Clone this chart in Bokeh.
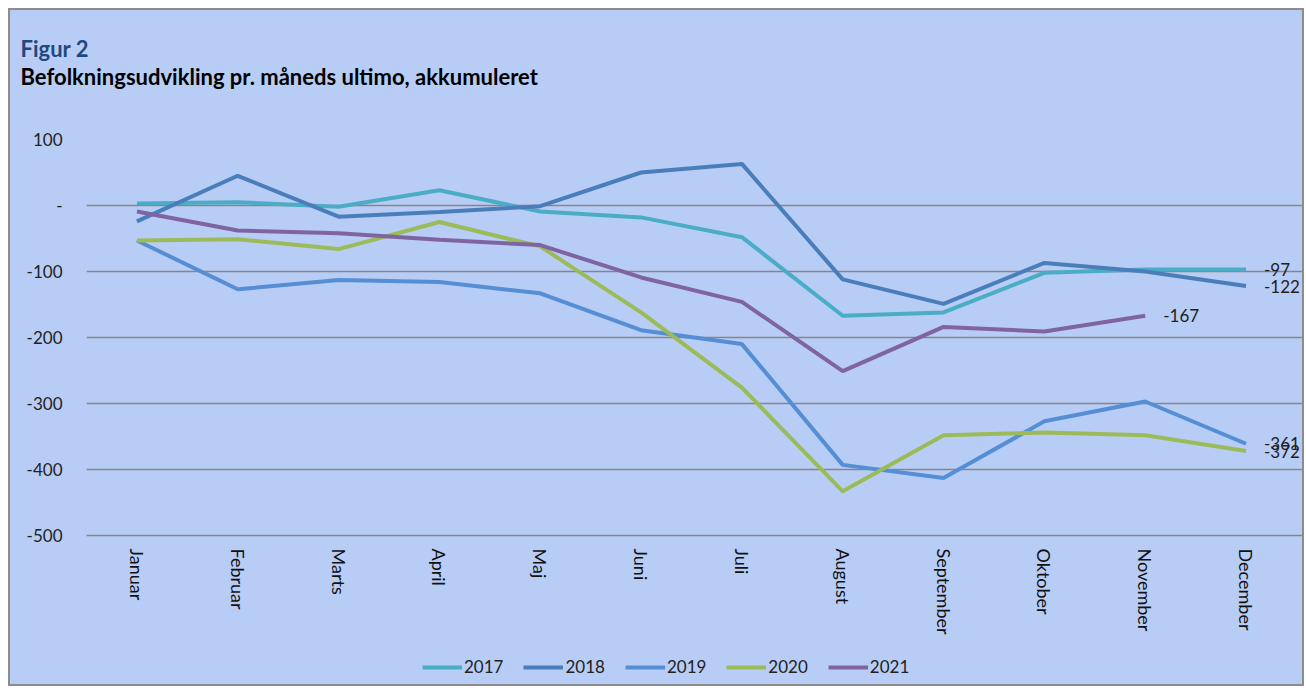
import math
from bokeh.plotting import figure
from bokeh.layouts import column
from bokeh.models import FixedTicker, Legend, LegendItem, ColumnDataSource, Range1d
from bokeh.embed import file_html
from bokeh.resources import INLINE
from bokeh.core.properties import value

months = ["Januar", "Februar", "Marts", "April", "Maj", "Juni", "Juli",
          "August", "September", "Oktober", "November", "December"]
years = ["2017", "2018", "2019", "2020", "2021"]
v2017 = [3, 5, -2, 23, -9, -18, -48, -167, -162, -102, -97, -97]
v2018 = [-24, 45, -17, -10, -1, 50, 63, -112, -149, -87, -100, -122]
v2019 = [-53, -127, -113, -116, -133, -189, -210, -393, -413, -327, -297, -361]
v2020 = [-53, -51, -66, -25, -62, -162, -276, -433, -348, -344, -348, -372]
v2021 = [-9, -38, -42, -52, -60, -109, -146, -251, -184, -191, -167]
series = [v2017, v2018, v2019, v2020, v2021]
colors = ["#4BACC6", "#4A7EBB", "#558ED5", "#9BBB59", "#8064A2"]
y_ticks = [-500, -400, -300, -200, -100, 0, 100]
y_labels = ["-500", "-400", "-300", "-200", "-100", "-", "100"]
title1 = "Figur 2"
title2 = "Befolkningsudvikling pr. måneds ultimo, akkumuleret"

BG = "#B8CDF5"
FONT = "Lato"
W = 1292
HT, HP, HL = 119, 521, 34


def bare(fig):
    fig.axis.visible = False
    fig.grid.visible = False
    fig.background_fill_color = BG
    fig.border_fill_color = BG
    fig.outline_line_color = None


# ---- title strip ----
t = figure(width=W, height=HT, output_backend="svg", toolbar_location=None,
           x_range=Range1d(0, W), y_range=Range1d(0, HT),
           min_border=0, frame_align=False)
bare(t)
tsrc = ColumnDataSource(dict(x=[10, 10], y=[HT - 38, HT - 66], txt=[title1, title2],
                             col=["#1F497D", "#000000"]))
t.text("x", "y", text="txt", source=tsrc, text_color="col", text_font=value(FONT),
       text_font_size="22px", text_font_style="bold", text_baseline="alphabetic")

# ---- main chart ----
p = figure(width=W, height=HP, output_backend="svg", toolbar_location=None,
           x_range=Range1d(-0.5, 11.56), y_range=Range1d(-500, 100),
           min_border_left=76, min_border_right=0, min_border_top=10, min_border_bottom=115,
           frame_align=False)
p.background_fill_color = BG
p.border_fill_color = BG
p.outline_line_color = None

p.xgrid.grid_line_color = None
p.ygrid.grid_line_color = "#868686"
p.ygrid.grid_line_width = 1.5
p.yaxis.ticker = FixedTicker(ticks=y_ticks)
p.yaxis.major_label_overrides = {tk: lb for tk, lb in zip(y_ticks, y_labels)}
p.yaxis.axis_line_color = None
p.yaxis.major_tick_line_color = None
p.yaxis.minor_tick_line_color = None
p.yaxis.major_label_standoff = 18
p.yaxis.major_label_text_font = FONT
p.yaxis.major_label_text_font_size = "17px"
p.yaxis.major_label_text_color = "#222222"

p.xaxis.ticker = FixedTicker(ticks=list(range(len(months))))
p.xaxis.major_label_overrides = {i: m for i, m in enumerate(months)}
p.xaxis.major_label_orientation = -math.pi / 2
p.xaxis.axis_line_color = "#868686"
p.xaxis.axis_line_width = 1.5
p.xaxis.major_tick_line_color = None
p.xaxis.minor_tick_line_color = None
p.xaxis.major_label_standoff = 7
p.xaxis.major_label_text_font = FONT
p.xaxis.major_label_text_font_size = "18px"
p.xaxis.major_label_text_color = "#111111"

for yr, vals, c in zip(years, series, colors):
    src = ColumnDataSource(dict(x=list(range(len(vals))), y=vals))
    p.line("x", "y", source=src, line_color=c, line_width=4)
    lab = ColumnDataSource(dict(x=[len(vals) - 1], y=[vals[-1]], t=[str(vals[-1])]))
    p.text("x", "y", text="t", source=lab, x_offset=18, text_baseline="middle",
           text_font=value(FONT), text_font_size="17px", text_color="#222222")

# ---- legend strip ----
# ranges chosen so that no data falls inside this strip; only the legend swatches show
q = figure(width=W, height=HL, output_backend="svg", toolbar_location=None,
           x_range=Range1d(-3, -2), y_range=Range1d(1000, 1001), min_border=0,
           frame_align=False)
bare(q)
items = []
for yr, vals, c in zip(years, series, colors):
    r = q.line(x=list(range(len(vals))), y=vals, line_color=c, line_width=4)
    items.append(LegendItem(label=yr, renderers=[r]))
leg = Legend(items=items, orientation="horizontal", location=(412, 7),
             background_fill_alpha=0, border_line_color=None,
             glyph_width=40, glyph_height=20, label_standoff=2, spacing=20,
             padding=0, margin=0, label_text_font=FONT, label_text_font_size="17px",
             label_text_color="#222222")
q.add_layout(leg, "center")

layout = column(t, p, q, spacing=0,
                styles={"border": "2px solid #8c8c8c", "margin": "8px 0 0 8px",
                        "background-color": BG})

open("out.html", "w").write(file_html(layout, INLINE))
